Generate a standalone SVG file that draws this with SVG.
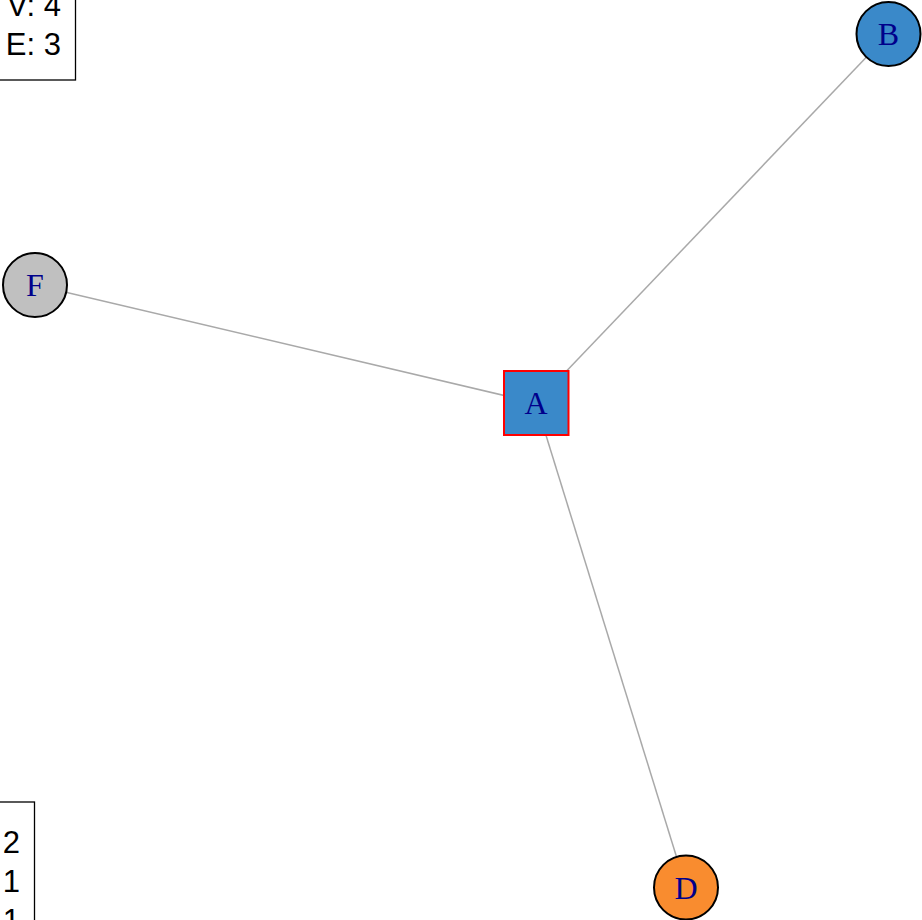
<svg xmlns="http://www.w3.org/2000/svg" width="922" height="920" viewBox="0 0 922 920">
<style>
.edge{stroke:#A9A9A9;stroke-width:1.5;fill:none}
.node{stroke:#000;stroke-width:2}
.lbl{font-family:"Liberation Serif",serif;font-size:32px;fill:#00008B;text-anchor:middle;dominant-baseline:central}
.leg{font-family:"Liberation Sans",Arial,sans-serif;font-size:31px;fill:#000}
.box{fill:#fff;stroke:#000;stroke-width:1.3}
</style>
<rect width="922" height="920" fill="#fff"/>
<g id="legend-top">
<rect class="box" x="-10" y="-20" width="85.5" height="100"/>
<text class="leg" x="61" y="16" text-anchor="end">V: 4</text>
<text class="leg" x="61" y="54.5" text-anchor="end">E: 3</text>
</g>
<g id="legend-bottom">
<rect class="box" x="-10" y="802" width="44.5" height="140"/>
<text class="leg" x="20" y="853" text-anchor="end">2</text>
<text class="leg" x="20" y="892" text-anchor="end">1</text>
<text class="leg" x="20" y="931" text-anchor="end">1</text>
</g>
<g id="edges">
<line class="edge" x1="536" y1="403" x2="888.5" y2="34"/>
<line class="edge" x1="536" y1="403" x2="35" y2="285"/>
<line class="edge" x1="536" y1="403" x2="686" y2="887.5"/>
</g>
<g id="node-A">
<rect x="504" y="371" width="64.5" height="64" fill="#3A89C9" stroke="#FF0000" stroke-width="2"/>
<text class="lbl" x="536" y="403">A</text>
</g>
<g id="node-B">
<circle class="node" cx="888.5" cy="34" r="32" fill="#3A89C9"/>
<text class="lbl" x="888.5" y="34">B</text>
</g>
<g id="node-F">
<circle class="node" cx="35" cy="285" r="32" fill="#C0C0C0"/>
<text class="lbl" x="35" y="285">F</text>
</g>
<g id="node-D">
<circle class="node" cx="686" cy="887.5" r="32" fill="#F98C2F"/>
<text class="lbl" x="686" y="887.5">D</text>
</g>
</svg>
